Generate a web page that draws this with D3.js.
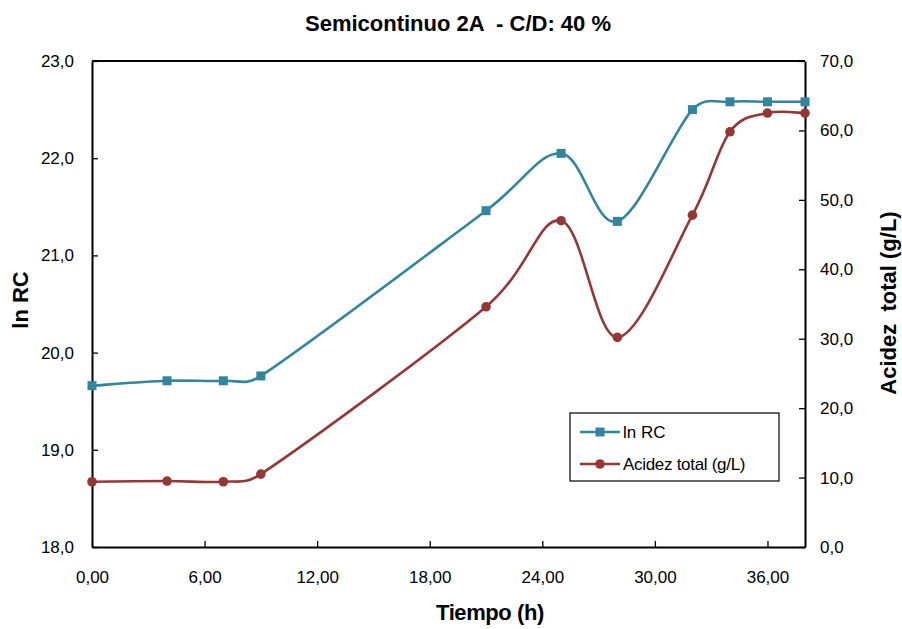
<!DOCTYPE html>
<html>
<head>
<meta charset="utf-8">
<script src="https://cdn.jsdelivr.net/npm/d3@7"></script>
<style>
  body { margin: 0; background: #fff; }
  svg text { font-family: "Liberation Sans", Arial, sans-serif; fill: #000; white-space: pre; }
</style>
</head>
<body>
<svg id="chart" width="902" height="629"></svg>
<script>
// Time in hours
const tiempo = [0, 4, 7, 9, 21, 25, 28, 32, 34, 36, 38];
// ln of cell count (left axis)
const lnRC = [19.66, 19.71, 19.71, 19.76, 21.46, 22.05, 21.35, 22.50, 22.58, 22.58, 22.58];
// Total acidity in g/L (right axis)
const acidez = [9.4, 9.5, 9.4, 10.5, 34.6, 47.0, 30.2, 47.8, 59.8, 62.5, 62.5];

const xTicks = [0, 6, 12, 18, 24, 30, 36];
const yLeftTicks = [18, 19, 20, 21, 22, 23];
const yRightTicks = [0, 10, 20, 30, 40, 50, 60, 70];

const colRC = "#31859C";
const colAc = "#953735";

const svg = d3.select("#chart");
const L = 92, R = 805, T = 61, B = 547;

const x = d3.scaleLinear().domain([0, 38]).range([L, R]);
const yL = d3.scaleLinear().domain([18, 23]).range([B, T]);
const yR = d3.scaleLinear().domain([0, 70]).range([B, T]);

const comma = (v, d) => v.toFixed(d).replace(".", ",");

// Axes with inward ticks
const gx = svg.append("g").attr("transform", `translate(0,${B})`)
  .call(d3.axisBottom(x).tickValues(xTicks).tickSizeInner(-6).tickSizeOuter(0).tickPadding(24)
    .tickFormat(d => comma(d, 2)));
const gl = svg.append("g").attr("transform", `translate(${L},0)`)
  .call(d3.axisLeft(yL).tickValues(yLeftTicks).tickSizeInner(-6).tickSizeOuter(0).tickPadding(18)
    .tickFormat(d => comma(d, 1)));
const gr = svg.append("g").attr("transform", `translate(${R},0)`)
  .call(d3.axisRight(yR).tickValues(yRightTicks).tickSizeInner(-6).tickSizeOuter(0).tickPadding(15)
    .tickFormat(d => comma(d, 1)));
[gx, gl, gr].forEach(g => {
  g.selectAll("text").style("font-size", "17px").style("font-family", '"Liberation Sans", Arial, sans-serif');
  g.selectAll("line").attr("stroke", "#000").attr("stroke-width", 1.3);
  g.select(".domain").attr("stroke", "#000").attr("stroke-width", 2);
});
// top border
svg.append("line").attr("x1", L).attr("x2", R).attr("y1", T).attr("y2", T)
  .attr("stroke", "#000").attr("stroke-width", 2);

// Smoothed line: cubic Bezier segments whose handles follow the neighbouring
// points (1/6 of the chord), with each handle capped at half its segment length.
function smoothPath(pts) {
  const n = pts.length;
  const tan = pts.map((p, i) => {
    const a = pts[Math.max(0, i - 1)], b = pts[Math.min(n - 1, i + 1)];
    return [(b[0] - a[0]) / 6, (b[1] - a[1]) / 6];
  });
  const cap = (t, len) => {
    const m = Math.hypot(t[0], t[1]);
    const lim = len * 0.5;
    return m > lim && m > 0 ? [t[0] * lim / m, t[1] * lim / m] : t;
  };
  const p = d3.path();
  p.moveTo(pts[0][0], pts[0][1]);
  for (let i = 0; i < n - 1; i++) {
    const a = pts[i], b = pts[i + 1];
    const len = Math.hypot(b[0] - a[0], b[1] - a[1]);
    const t1 = cap(tan[i], len), t2 = cap(tan[i + 1], len);
    p.bezierCurveTo(a[0] + t1[0], a[1] + t1[1], b[0] - t2[0], b[1] - t2[1], b[0], b[1]);
  }
  return p.toString();
}

const ptsRC = lnRC.map((v, i) => [x(tiempo[i]), yL(v)]);
const ptsAc = acidez.map((v, i) => [x(tiempo[i]), yR(v)]);

svg.append("path").attr("d", smoothPath(ptsRC)).attr("fill", "none")
  .attr("stroke", colRC).attr("stroke-width", 2.6);
svg.append("path").attr("d", smoothPath(ptsAc)).attr("fill", "none")
  .attr("stroke", colAc).attr("stroke-width", 2.6);

svg.selectAll(".mRC").data(lnRC).enter().append("rect")
  .attr("x", (d, i) => x(tiempo[i]) - 4.5).attr("y", d => yL(d) - 4.5)
  .attr("width", 9).attr("height", 9).attr("fill", colRC);
svg.selectAll(".mAc").data(acidez).enter().append("circle")
  .attr("cx", (d, i) => x(tiempo[i])).attr("cy", d => yR(d)).attr("r", 4.8)
  .attr("fill", colAc);

// Legend
const lg = svg.append("g").attr("transform", "translate(570,413)");
lg.append("rect").attr("width", 209).attr("height", 68).attr("fill", "#fff")
  .attr("stroke", "#000").attr("stroke-width", 1.2);
lg.append("line").attr("x1", 10).attr("x2", 50).attr("y1", 19).attr("y2", 19)
  .attr("stroke", colRC).attr("stroke-width", 2.6);
lg.append("rect").attr("x", 25.5).attr("y", 14.5).attr("width", 9).attr("height", 9).attr("fill", colRC);
lg.append("text").attr("x", 53).attr("y", 25).style("font-size", "17px").text("ln RC");
lg.append("line").attr("x1", 10).attr("x2", 50).attr("y1", 51).attr("y2", 51)
  .attr("stroke", colAc).attr("stroke-width", 2.6);
lg.append("circle").attr("cx", 30).attr("cy", 51).attr("r", 4.8).attr("fill", colAc);
lg.append("text").attr("x", 53).attr("y", 57).style("font-size", "17px")
  .style("letter-spacing", "-0.3px").text("Acidez total (g/L)");

// Titles
svg.append("text").attr("x", 458).attr("y", 31).attr("text-anchor", "middle")
  .style("font-size", "22px").style("font-weight", "bold").text("Semicontinuo 2A  - C/D: 40 %");
svg.append("text").attr("x", 490).attr("y", 620).attr("text-anchor", "middle")
  .style("font-size", "22px").style("font-weight", "bold").style("letter-spacing", "-0.4px").text("Tiempo (h)");
svg.append("text").attr("transform", "translate(28,300) rotate(-90)").attr("text-anchor", "middle")
  .style("font-size", "22px").style("font-weight", "bold").text("ln RC");
svg.append("text").attr("transform", "translate(896,303) rotate(-90)").attr("text-anchor", "middle")
  .style("font-size", "22px").style("font-weight", "bold").text("Acidez  total (g/L)");
</script>
</body>
</html>
